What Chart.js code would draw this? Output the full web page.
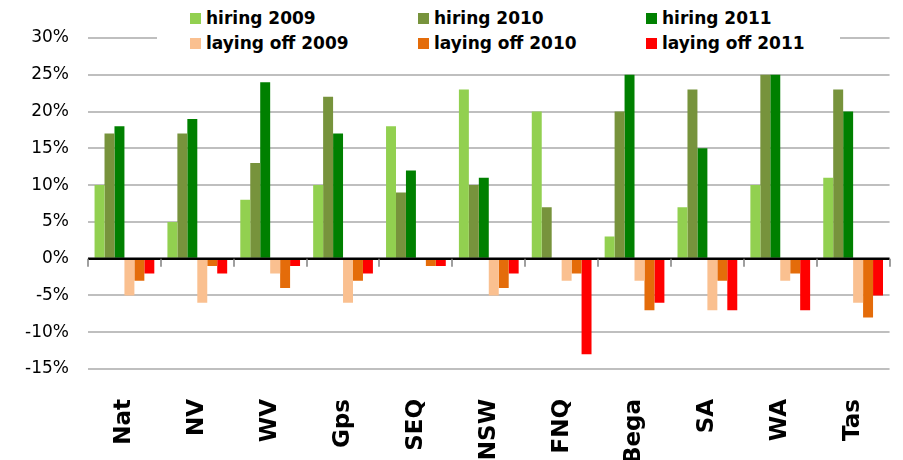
<!DOCTYPE html>
<html>
<head>
<meta charset="utf-8">
<script src="https://cdn.jsdelivr.net/npm/chart.js@4"></script>
<style>
  body { margin: 0; background: #fff; }
  #wrap { position: relative; width: 903px; height: 460px; }
  #legend {
    position: absolute; left: 157px; top: 0; width: 683px; height: 56px;
    background: #fff; font-family: "DejaVu Sans", Verdana, sans-serif;
    font-weight: bold; font-size: 17px; color: #000;
  }
  .item { position: absolute; white-space: nowrap; line-height: 20px; }
  .item span.box { display: inline-block; width: 11px; height: 11px; margin-right: 5px; vertical-align: 0px; }
</style>
</head>
<body>
<div id="wrap">
  <canvas id="myChart" width="903" height="460"></canvas>
  <div id="legend"></div>
</div>
<script>
const regions = ['Nat', 'NV', 'WV', 'Gps', 'SEQ', 'NSW', 'FNQ', 'Bega', 'SA', 'WA', 'Tas'];

const hiring2009 = [10, 5, 8, 10, 18, 23, 20, 3, 7, 10, 11];
const hiring2010 = [17, 17, 13, 22, 9, 10, 7, 20, 23, 25, 23];
const hiring2011 = [18, 19, 24, 17, 12, 11, 0, 25, 15, 25, 20];
const layoff2009 = [-5, -6, -2, -6, 0, -5, -3, -3, -7, -3, -6];
const layoff2010 = [-3, -1, -4, -3, -1, -4, -2, -7, -3, -2, -8];
const layoff2011 = [-2, -2, -1, -2, -1, -2, -13, -6, -7, -7, -5];

const seriesNames = ['hiring 2009', 'hiring 2010', 'hiring 2011', 'laying off 2009', 'laying off 2010', 'laying off 2011'];
const seriesData = [hiring2009, hiring2010, hiring2011, layoff2009, layoff2010, layoff2011];
const seriesColors = ['#92D050', '#77933C', '#008000', '#FAC090', '#E46C0A', '#FF0000'];

// legend laid out like the excel one: 3 columns, 2 rows
const legend = document.getElementById('legend');
const colX = [33, 261, 489];
const rowY = [8, 33];
seriesNames.forEach((name, i) => {
  const d = document.createElement('div');
  d.className = 'item';
  d.style.left = colX[i % 3] + 'px';
  d.style.top = rowY[Math.floor(i / 3)] + 'px';
  d.innerHTML = '<span class="box" style="background:' + seriesColors[i] + '"></span>' + name;
  legend.appendChild(d);
});

// little tick marks on the zero line between categories
const zeroTicks = {
  id: 'zeroTicks',
  afterDatasetsDraw(chart) {
    const x = chart.scales.x, y = chart.scales.y, c = chart.ctx;
    const y0 = y.getPixelForValue(0);
    const step = (x.right - x.left) / regions.length;
    c.save();
    c.strokeStyle = '#000';
    c.lineWidth = 2.5;
    c.beginPath();
    c.moveTo(x.left, y0);
    c.lineTo(x.right, y0);
    c.stroke();
    c.strokeStyle = '#7f7f7f';
    c.lineWidth = 1.5;
    for (let i = 0; i <= regions.length; i++) {
      const px = Math.round(x.left + i * step);
      c.beginPath();
      c.moveTo(px, y0);
      c.lineTo(px, y0 + 8);
      c.stroke();
    }
    c.restore();
  }
};

const ctx = document.getElementById('myChart');

new Chart(ctx, {
  type: 'bar',
  data: {
    labels: regions,
    datasets: seriesNames.map((name, i) => ({
      label: name,
      data: seriesData[i],
      backgroundColor: seriesColors[i],
      borderWidth: 0
    }))
  },
  options: {
    responsive: false,
    animation: false,
    categoryPercentage: 0.82,
    barPercentage: 1,
    layout: { padding: { top: 38, right: 6, left: 0, bottom: 0 } },
    scales: {
      y: {
        min: -15,
        max: 30,
        ticks: {
          stepSize: 5,
          color: '#000',
          padding: 19,
          font: { family: 'DejaVu Sans', size: 17 },
          callback: v => v + '%'
        },
        grid: { color: '#bfbfbf', lineWidth: 2, drawTicks: false },
        border: { display: false },
        afterFit: s => { s.width = 88; }
      },
      x: {
        ticks: {
          color: '#000',
          minRotation: 90,
          maxRotation: 90,
          padding: 22,
          font: { family: 'DejaVu Sans', size: 23, weight: 'bold' }
        },
        grid: { display: false },
        border: { display: false },
        afterFit: s => { s.height = 91; }
      }
    },
    plugins: {
      legend: { display: false },
      tooltip: { enabled: false }
    }
  },
  plugins: [zeroTicks]
});
</script>
</body>
</html>
